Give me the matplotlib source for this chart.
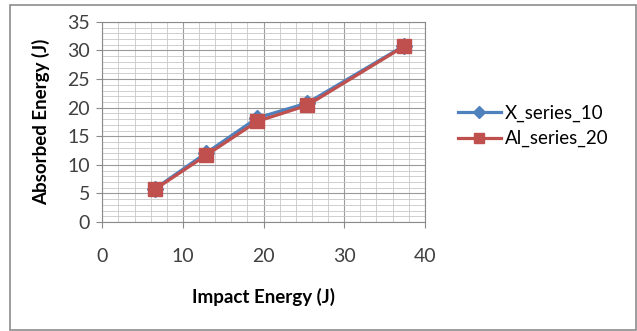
import matplotlib
matplotlib.use('Agg')
import matplotlib.pyplot as plt
from matplotlib.ticker import MultipleLocator
from matplotlib.patches import Rectangle

# data
impact = [6.5, 12.9, 19.2, 25.4, 37.4]
x_series_10 = [5.8, 12.1, 18.2, 20.8, 30.8]
al_series_20 = [5.7, 11.7, 17.6, 20.4, 30.7]
series_names = ['X_series_10', 'Al_series_20']

plt.rcParams['font.family'] = ['Lato', 'DejaVu Sans']

fig = plt.figure(figsize=(6.37, 3.31), dpi=100)
ax = fig.add_axes([0.1606, 0.329, 0.5064, 0.605])

# outer chart frame
fig.patches.append(Rectangle((10 / 637, 1 / 331), 626 / 637, 325 / 331, transform=fig.transFigure,
                             fill=False, edgecolor='#8c8c8c', linewidth=1.2))

ax.plot(impact, x_series_10, color='#4F81BD', linewidth=2.3, marker='D', markersize=8,
        label=series_names[0])
ax.plot(impact, al_series_20, color='#C0504D', linewidth=2.3, marker='s', markersize=10,
        label=series_names[1])

ax.set_xlim(0, 40)
ax.set_ylim(0, 35)
ax.xaxis.set_major_locator(MultipleLocator(10))
ax.xaxis.set_minor_locator(MultipleLocator(2))
ax.yaxis.set_major_locator(MultipleLocator(5))
ax.yaxis.set_minor_locator(MultipleLocator(1))
ax.grid(which='major', color='#9a9a9a', linewidth=0.8)
ax.grid(which='minor', color='#c8c8c8', linewidth=0.6)
ax.set_axisbelow(True)

for s in ax.spines.values():
    s.set_color('#8a8a8a')
    s.set_linewidth(0.8)
ax.tick_params(which='major', direction='out', length=4, color='#8a8a8a',
               labelsize=14, labelcolor='#404040', pad=5)
ax.tick_params(which='minor', length=0)
ax.tick_params(axis='x', pad=15)

ax.set_xlabel('Impact Energy (J)', fontsize=13.5, fontweight='bold', labelpad=16)
ax.set_ylabel('Absorbed Energy (J)', fontsize=13.5, fontweight='bold', labelpad=12)

ax.legend(loc='center left', bbox_to_anchor=(1.05, 0.48), frameon=False, fontsize=13.5,
          handlelength=2.3, handletextpad=0.2, labelspacing=0.45, markerscale=0.75)

fig.savefig('out.png', dpi=100)
